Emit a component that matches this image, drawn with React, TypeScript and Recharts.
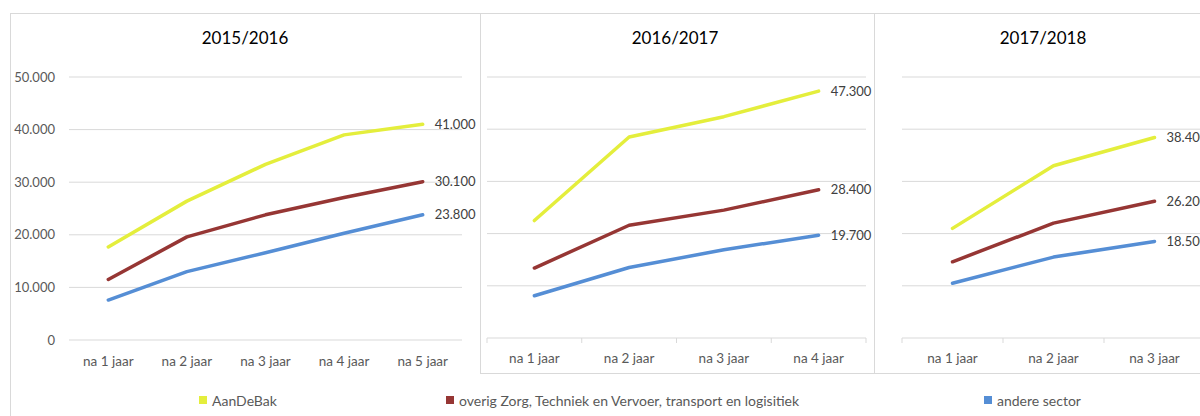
import React from 'react';
import { LineChart, Line, XAxis, YAxis, CartesianGrid, LabelList } from 'recharts';

const seriesNames = ['AanDeBak', 'overig Zorg, Techniek en Vervoer, transport en logisitiek', 'andere sector'];
const seriesColors = ['#E4EE3C', '#963634', '#558ED5'];
const seriesKeys = ['aandebak', 'overig', 'andere'];

const titles = ['2015/2016', '2016/2017', '2017/2018'];

const cats1 = ['na 1 jaar', 'na 2 jaar', 'na 3 jaar', 'na 4 jaar', 'na 5 jaar'];
const aandebak1 = [17700, 26400, 33400, 39000, 41000];
const overig1 = [11500, 19600, 23800, 27100, 30100];
const andere1 = [7600, 13000, 16600, 20300, 23800];

const cats2 = ['na 1 jaar', 'na 2 jaar', 'na 3 jaar', 'na 4 jaar'];
const aandebak2 = [22500, 38500, 42400, 47300];
const overig2 = [13400, 21600, 24500, 28400];
const andere2 = [8100, 13500, 16900, 19700];

const cats3 = ['na 1 jaar', 'na 2 jaar', 'na 3 jaar'];
const aandebak3 = [21000, 33000, 38400];
const overig3 = [14600, 22000, 26200];
const andere3 = [10500, 15500, 18500];

const yTicks = [0, 10000, 20000, 30000, 40000, 50000];

const GRID = '#d9d9d9';
const TICK = '#595959';

const fmt = (v: number) => Math.round(v).toString().replace(/\B(?=(\d{3})+(?!\d))/g, '.');

function build(cats: string[], a: number[], o: number[], b: number[]) {
  return cats.map((c, i) => ({ cat: c, aandebak: a[i], overig: o[i], andere: b[i] }));
}

const data1 = build(cats1, aandebak1, overig1, andere1);
const data2 = build(cats2, aandebak2, overig2, andere2);
const data3 = build(cats3, aandebak3, overig3, andere3);

function makeEndLabel(n: number) {
  return (props: any) => {
    const { x, y, value, index } = props;
    if (index !== n - 1) return null;
    return (
      <text x={x + 12} y={y} dy={4.5} fill="#404040" fontSize={13} textAnchor="start">
        {fmt(value)}
      </text>
    );
  };
}

function makeTick(n: number, edges: boolean, axisY: number) {
  return (props: any) => {
    const { x, y, payload, index } = props;
    const half = payload && payload.offset ? payload.offset : 0;
    return (
      <g>
        {edges && (
          <line x1={x - half} x2={x - half} y1={axisY} y2={axisY + 5} stroke={GRID} />
        )}
        {edges && index === n - 1 && (
          <line x1={x + half} x2={x + half} y1={axisY} y2={axisY + 5} stroke={GRID} />
        )}
        <text x={x} y={y} dy="0.71em" textAnchor="middle" fill={TICK} fontSize={13.5}>
          {payload.value}
        </text>
      </g>
    );
  };
}

type PanelProps = {
  data: any[];
  width: number;
  height: number;
  showY: boolean;
  margin: { top: number; right: number; bottom: number; left: number };
  axisH: number;
  edges: boolean;
  tickMargin: number;
};

function Panel({ data, width, height, showY, margin, axisH, edges, tickMargin }: PanelProps) {
  const n = data.length;
  const axisY = height - margin.bottom - axisH;
  return (
    <LineChart width={width} height={height} data={data} margin={margin}>
      <CartesianGrid vertical={false} stroke={GRID} strokeWidth={1} />
      <XAxis
        dataKey="cat"
        scale="band"
        height={axisH}
        axisLine={false}
        tickLine={false}
        tickSize={0}
        tickMargin={tickMargin}
        interval={0}
        tick={makeTick(n, edges, axisY)}
      />
      <YAxis
        domain={[0, 50000]}
        ticks={yTicks}
        hide={!showY}
        width={showY ? 59 : 0}
        axisLine={false}
        tickLine={false}
        tickSize={0}
        tickMargin={14}
        tickFormatter={(v: number) => fmt(v)}
        tick={{ fill: TICK, fontSize: 13 }}
      />
      {seriesKeys.map((k, i) => (
        <Line
          key={k}
          type="linear"
          dataKey={k}
          name={seriesNames[i]}
          stroke={seriesColors[i]}
          strokeWidth={3.5}
          strokeLinecap="round"
          strokeLinejoin="round"
          dot={false}
          activeDot={false}
          isAnimationActive={false}
        >
          <LabelList dataKey={k} content={makeEndLabel(n)} />
        </Line>
      ))}
    </LineChart>
  );
}

const box = (left: number, top: number, width: number, height: number): React.CSSProperties => ({
  position: 'absolute',
  left,
  top,
  width,
  height,
  border: `1px solid ${GRID}`,
  background: '#fff',
  boxSizing: 'border-box',
});

const titleStyle = (center: number): React.CSSProperties => ({
  position: 'absolute',
  left: center - 100,
  width: 200,
  top: 26,
  textAlign: 'center',
  fontSize: 17,
  color: '#000',
  lineHeight: '24px',
});

const legendX = [199, 446, 984];

export default function App() {
  return (
    <div
      style={{
        position: 'absolute',
        left: 0,
        top: 0,
        width: 1200,
        height: 416,
        overflow: 'hidden',
        background: '#fff',
        fontFamily: 'Lato, "Open Sans", sans-serif',
      }}
    >
      <div style={box(10, 13, 1400, 600)} />
      <div style={{ position: 'absolute', left: 10, top: 13 }}>
        <Panel
          data={data1}
          width={470}
          height={360}
          showY
          margin={{ top: 64, right: 18, bottom: 0, left: 0 }}
          axisH={33}
          edges={false}
          tickMargin={16}
        />
      </div>
      <div style={titleStyle(245)}>{titles[0]}</div>

      <div style={box(480, 13, 395, 361)} />
      <div style={{ position: 'absolute', left: 480, top: 13 }}>
        <Panel
          data={data2}
          width={395}
          height={360}
          showY={false}
          margin={{ top: 64, right: 9, bottom: 0, left: 7 }}
          axisH={35}
          edges
          tickMargin={15}
        />
      </div>
      <div style={titleStyle(675)}>{titles[1]}</div>

      <div style={box(874, 13, 400, 361)} />
      <div style={{ position: 'absolute', left: 874, top: 13 }}>
        <Panel
          data={data3}
          width={400}
          height={360}
          showY={false}
          margin={{ top: 64, right: 69, bottom: 0, left: 28 }}
          axisH={35}
          edges
          tickMargin={15}
        />
      </div>
      <div style={titleStyle(1043)}>{titles[2]}</div>

      {seriesNames.map((name, i) => (
        <div
          key={name}
          style={{
            position: 'absolute',
            left: legendX[i],
            top: 391,
            height: 18,
            display: 'flex',
            alignItems: 'center',
            whiteSpace: 'nowrap',
            fontSize: 14,
            color: TICK,
          }}
        >
          <span style={{ display: 'inline-block', width: 8, height: 8, background: seriesColors[i], marginRight: 5 }} />
          <span>{name}</span>
        </div>
      ))}
    </div>
  );
}
